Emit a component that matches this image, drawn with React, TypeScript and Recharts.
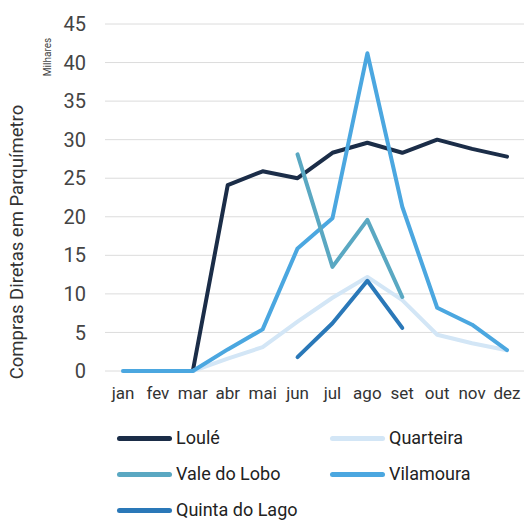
import { LineChart, Line, XAxis, YAxis, CartesianGrid } from "recharts";

const months = ["jan", "fev", "mar", "abr", "mai", "jun", "jul", "ago", "set", "out", "nov", "dez"];

// values in thousands (Milhares)
const loule = [null, null, 0, 24.1, 25.9, 25.0, 28.3, 29.6, 28.3, 30.0, 28.8, 27.8];
const quarteira = [0, 0, 0, 1.6, 3.1, 6.4, 9.5, 12.2, 9.2, 4.7, 3.6, 2.7];
const valeDoLobo = [null, null, null, null, null, 28.1, 13.5, 19.6, 9.6, null, null, null];
const vilamoura = [0, 0, 0, 2.8, 5.4, 15.9, 19.8, 41.2, 21.3, 8.2, 6.0, 2.7];
const quintaDoLago = [null, null, null, null, null, 1.8, 6.2, 11.7, 5.6, null, null, null];

const yTicks = [0, 5, 10, 15, 20, 25, 30, 35, 40, 45];

const series = [
  { key: "loule", name: "Loulé", color: "#1b2d48" },
  { key: "quarteira", name: "Quarteira", color: "#d3e6f6" },
  { key: "vilamoura", name: "Vilamoura", color: "#4ba7e0" },
  { key: "valeDoLobo", name: "Vale do Lobo", color: "#5aa8c2" },
  { key: "quintaDoLago", name: "Quinta do Lago", color: "#2a78b8" },
];

// legend order as in the picture
const legendOrder = ["loule", "quarteira", "valeDoLobo", "vilamoura", "quintaDoLago"];

const data = months.map((m, i) => ({
  month: m,
  loule: loule[i],
  quarteira: quarteira[i],
  valeDoLobo: valeDoLobo[i],
  vilamoura: vilamoura[i],
  quintaDoLago: quintaDoLago[i],
}));

const font = "Roboto, 'DejaVu Sans', sans-serif";

export default function App() {
  return (
    <div
      style={{
        position: "absolute",
        left: 0,
        top: 0,
        width: 524,
        height: 520,
        background: "#fff",
        fontFamily: font,
      }}
    >
      <LineChart
        width={524}
        height={520}
        data={data}
        margin={{ top: 24, right: 0, left: 0, bottom: 119 }}
      >
        <CartesianGrid vertical={false} stroke="#dcdcdc" strokeWidth={1} />
        <XAxis
          dataKey="month"
          axisLine={false}
          tickLine={false}
          tickSize={0}
          tickMargin={16}
          height={30}
          padding={{ left: 18, right: 17 }}
          interval={0}
          tick={{ fontSize: 17, fill: "#333", fontFamily: font }}
        />
        <YAxis
          domain={[0, 45]}
          ticks={yTicks}
          axisLine={false}
          tickLine={false}
          tickSize={0}
          tickMargin={19}
          width={105}
          tick={{ fontSize: 20, fill: "#444", fontFamily: font }}
        />
        {series.map((s) => (
          <Line
            key={s.key}
            dataKey={s.key}
            name={s.name}
            stroke={s.color}
            strokeWidth={4}
            strokeLinecap="round"
            strokeLinejoin="round"
            dot={false}
            type="linear"
            isAnimationActive={false}
          />
        ))}
      </LineChart>

      {/* axis titles */}
      <div
        style={{
          position: "absolute",
          left: 17,
          top: 242,
          transform: "translate(-50%, -50%) rotate(-90deg)",
          whiteSpace: "nowrap",
          fontSize: 18.5,
          color: "#333",
        }}
      >
        Compras Diretas em Parquímetro
      </div>
      <div
        style={{
          position: "absolute",
          left: 47,
          top: 57,
          transform: "translate(-50%, -50%) rotate(-90deg)",
          whiteSpace: "nowrap",
          fontSize: 10,
          color: "#444",
        }}
      >
        Milhares
      </div>

      {/* legend */}
      {legendOrder.map((k, i) => {
        const s = series.find((x) => x.key === k)!;
        const col = i % 2;
        const row = Math.floor(i / 2);
        const left = col === 0 ? 117 : 330;
        const top = 438 + row * 36;
        return (
          <div
            key={k}
            style={{
              position: "absolute",
              left,
              top: top - 11,
              height: 22,
              display: "flex",
              alignItems: "center",
            }}
          >
            <div
              style={{
                width: 55,
                height: 5,
                borderRadius: 3,
                background: s.color,
                marginRight: 4,
              }}
            />
            <span style={{ fontSize: 18, color: "#222", lineHeight: "22px" }}>{s.name}</span>
          </div>
        );
      })}
    </div>
  );
}
